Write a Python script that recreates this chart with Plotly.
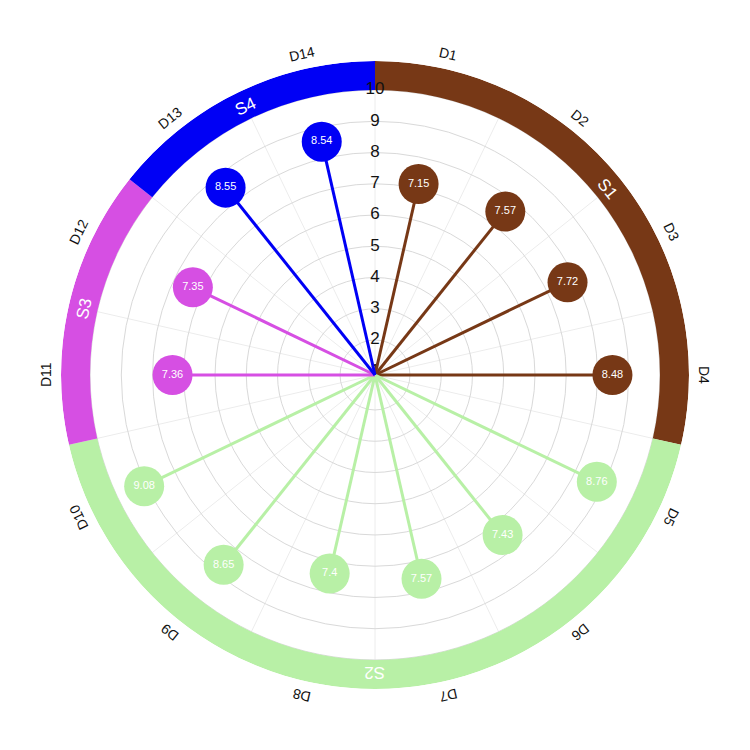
import math
import plotly.graph_objects as go

# ---------------- data ----------------
categories = ["D1", "D2", "D3", "D4", "D5", "D6", "D7", "D8", "D9", "D10",
              "D11", "D12", "D13", "D14"]
values = [7.15, 7.57, 7.72, 8.48, 8.76, 7.43, 7.57, 7.4, 8.65, 9.08,
          7.36, 7.35, 8.55, 8.54]
groups = ["S1", "S1", "S1", "S1", "S2", "S2", "S2", "S2", "S2", "S2",
          "S3", "S3", "S4", "S4"]
group_names = ["S1", "S2", "S3", "S4"]
group_colors = {"S1": "#773816", "S2": "#b8f0a6", "S3": "#d64fe3", "S4": "#0000f5"}
radial_ticks = [1, 2, 3, 4, 5, 6, 7, 8, 9, 10]

# ---------------- geometry / style ----------------
R_MIN = 0.88
RING_BASE = 10.0
R_MAX = 10.93
FONT = "Liberation Sans, Arial, sans-serif"
W = H = 742           # page body has an 8px margin
CX = CY = 367.0       # desired center, in figure pixels (from top-left)
OUTER_PX = 314.0
LABEL_PX = 329.0
GROUP_LABEL_PX = 298.0

n = len(categories)
step = 360.0 / n
thetas = [(i + 0.5) * step for i in range(n)]

fig = go.Figure()

# outer ring segments
for g in group_names:
    idx = [i for i, gg in enumerate(groups) if gg == g]
    start = idx[0] * step
    end = (idx[-1] + 1) * step
    fig.add_trace(go.Barpolar(
        r=[R_MAX - RING_BASE], theta=[(start + end) / 2], width=[end - start],
        base=[RING_BASE], marker=dict(color=group_colors[g], line=dict(width=0)),
        hoverinfo="skip", showlegend=False))

# radial tick labels along the 0° spoke
fig.add_trace(go.Scatterpolar(
    r=radial_ticks, theta=[0] * len(radial_ticks), mode="text",
    text=[str(t) for t in radial_ticks],
    textfont=dict(size=17, color="#111111", family=FONT),
    hoverinfo="skip", showlegend=False))

# lollipop sticks
for i in range(n):
    fig.add_trace(go.Scatterpolar(
        r=[R_MIN, values[i]], theta=[thetas[i], thetas[i]], mode="lines",
        line=dict(color=group_colors[groups[i]], width=3),
        hoverinfo="skip", showlegend=False))

# lollipop heads
fig.add_trace(go.Scatterpolar(
    r=values, theta=thetas, mode="markers+text",
    marker=dict(size=40, color=[group_colors[g] for g in groups], line=dict(width=0)),
    text=[str(v) for v in values], textposition="middle center",
    textfont=dict(size=11, color="white", family=FONT),
    showlegend=False))

dom_x = [(CX - OUTER_PX) / W, (CX + OUTER_PX) / W]
cy_paper = H - CY
dom_y = [(cy_paper - OUTER_PX) / H, (cy_paper + OUTER_PX) / H]


def to_paper(radius_px, ang_deg):
    a = math.radians(ang_deg)
    return (CX + radius_px * math.sin(a)) / W, (cy_paper + radius_px * math.cos(a)) / H


annotations = []
for i, c in enumerate(categories):
    x, y = to_paper(LABEL_PX, thetas[i])
    annotations.append(dict(
        x=x, y=y, xref="paper", yref="paper", text=c, showarrow=False,
        textangle=thetas[i], font=dict(size=14, color="#111111", family=FONT),
        xanchor="center", yanchor="middle"))
for g in group_names:
    idx = [i for i, gg in enumerate(groups) if gg == g]
    mid = (idx[0] * step + (idx[-1] + 1) * step) / 2
    x, y = to_paper(GROUP_LABEL_PX, mid)
    annotations.append(dict(
        x=x, y=y, xref="paper", yref="paper", text=g, showarrow=False,
        textangle=mid, font=dict(size=17, color="white", family=FONT),
        xanchor="center", yanchor="middle"))

fig.update_layout(
    width=W, height=H, margin=dict(l=0, r=0, t=0, b=0),
    paper_bgcolor="white", showlegend=False,
    font=dict(family=FONT),
    annotations=annotations,
    polar=dict(
        domain=dict(x=dom_x, y=dom_y),
        bgcolor="white",
        radialaxis=dict(range=[R_MIN, R_MAX], tickvals=radial_ticks[1:],
                        showticklabels=False, ticks="", showline=False,
                        gridcolor="#d9d9d9", gridwidth=1, layer="below traces"),
        angularaxis=dict(direction="clockwise", rotation=90, thetaunit="degrees",
                         tickvals=[i * step for i in range(n)],
                         showticklabels=False, ticks="", showline=False,
                         gridcolor="#ececec", gridwidth=1, layer="below traces"),
    ),
)

fig.write_html("out.html")
